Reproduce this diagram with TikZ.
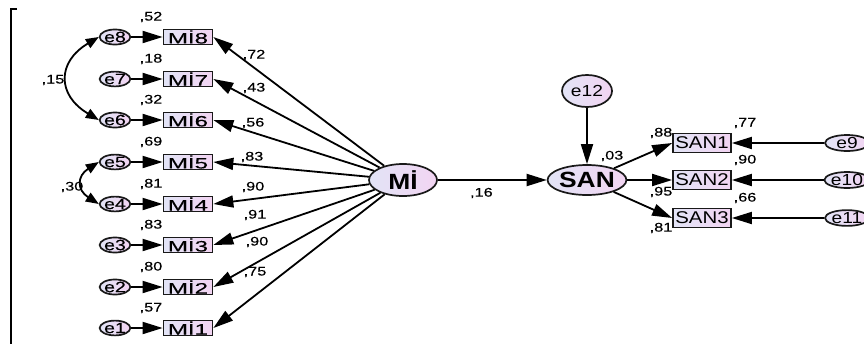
\documentclass[tikz,border=0pt]{standalone}
\usepackage{fontspec}
\setmainfont{Liberation Sans}
\newfontfamily\wideS[FakeStretch=1.2]{Liberation Sans}
\newfontfamily\wideM[FakeStretch=1.3,FakeBold=0.3]{Liberation Sans}
\newfontfamily\wideL[FakeStretch=1.6,FakeBold=0.3]{Liberation Sans}
\usetikzlibrary{positioning,shapes.geometric,arrows.meta}
\definecolor{fillL}{RGB}{226,228,246}
\definecolor{fillR}{RGB}{242,212,242}
\definecolor{edge}{RGB}{25,25,25}

\begin{document}
\begin{tikzpicture}[x=1pt,y=-1pt,
    arr/.style={line width=1.8pt,-{Triangle[length=20pt,width=12pt]}},
    cov/.style={line width=1.8pt,{Triangle[length=13pt,width=10pt]}-{Triangle[length=13pt,width=10pt]}},
    fillbox/.style={draw=edge,line width=1.7pt,left color=fillL,right color=fillR,inner sep=0pt},
    obs/.style={fillbox,rectangle,minimum width=49pt,minimum height=15pt,font=\wideL\fontsize{15}{15}\selectfont},
    sanbox/.style={fillbox,rectangle,minimum width=58pt,minimum height=19pt,font=\wideS\fontsize{17}{18}\selectfont},
    err/.style={fillbox,ellipse,minimum width=30pt,minimum height=14pt,font=\wideM\fontsize{15}{15}\selectfont},
    errR/.style={fillbox,ellipse,minimum width=44pt,minimum height=15pt,font=\wideS\fontsize{16}{17}\selectfont},
    lat/.style={fillbox,ellipse,font=\wideS\bfseries\fontsize{22}{24}\selectfont},
    lbl/.style={inner sep=0pt,font=\wideM\fontsize{12.5}{13}\selectfont}]
    \clip (0,0) rectangle (864,343);
    \draw[line width=2.2pt] (17,9) -- (11,9) -- (11,345);
    \node[lat,minimum width=68pt,minimum height=32pt] (MI) at (403,180) {Mİ};
    \node[lat,minimum width=67pt,minimum height=30pt] (SAN) at (587,180) {SAN};
    \node[errR,minimum width=50pt,minimum height=32pt] (e12) at (587,91) {e12};
    \foreach \i/\y/\r/\l/\lx/\ly in {8/37/52/72/254/55, 7/79/18/43/254/88, 6/120/32/56/253/123, 5/162/69/83/252/157, 4/204/81/90/253/187, 3/245/83/91/255/215, 2/287/80/90/257/242, 1/328/57/75/255/272} {
        \node[err] (e\i) at (115,\y) {e\i};
        \node[obs] (m\i) at (188,\y) {Mİ\i};
        \draw[arr] (e\i) -- (m\i);
        \draw[arr] (MI) -- (m\i.east);
        \node[lbl] at (151,\y-20) {,\r};
        \node[lbl] at (\lx,\ly) {,\l};
    }
    \draw[cov] (e8.west) .. controls +(-42,25) and +(-42,-25) .. (e6.west);
    \draw[cov] (e5.west) .. controls +(-22,14) and +(-22,-14) .. (e4.west);
    \node[lbl] at (53,80) {,15};
    \node[lbl] at (72,187) {,30};
    \foreach \i/\e/\y/\r/\l/\ly in {1/9/143/77/88/133, 2/10/180/90/95/192, 3/11/218/66/81/228} {
        \node[sanbox] (s\i) at (702,\y) {SAN\i};
        \node[errR] (e\e) at (847,\y) {e\e};
        \draw[arr] (e\e) -- (s\i);
        \draw[arr] (SAN) -- (s\i.west);
        \node[lbl] at (745,\y-20) {,\r};
        \node[lbl] at (661,\ly) {,\l};
    }
    \draw[arr] (MI) -- (SAN) node[lbl,pos=0.4,below=7pt] {,16};
    \draw[arr] (e12) -- (SAN);
    \node[lbl] at (612,156) {,03};
\end{tikzpicture}
\end{document}
